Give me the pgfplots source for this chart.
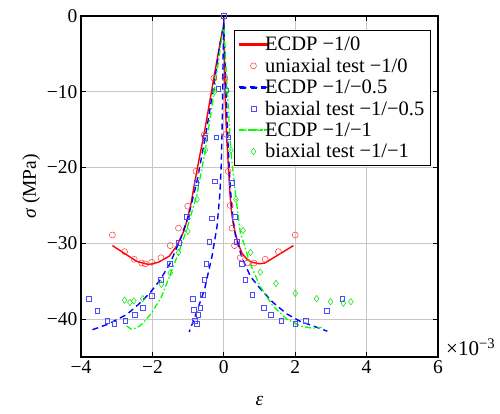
\documentclass[border=0pt]{standalone}
\usepackage{fontspec}
\setmainfont{Liberation Serif}
\usepackage{pgfplots}
\pgfplotsset{compat=1.18}
\pgfplotsset{
  redleg/.style={legend image code/.code={\fill[red] (0pt,-0.7pt) rectangle (28pt,0.7pt);}},
  blueleg/.style={legend image code/.code={\fill[blue] (0pt,-0.7pt) rectangle (7pt,0.7pt) (11pt,-0.7pt) rectangle (18pt,0.7pt) (22pt,-0.7pt) rectangle (28pt,0.7pt);}},
  greenleg/.style={legend image code/.code={\fill[green] (0pt,-0.65pt) rectangle (7pt,0.65pt) (9pt,-0.65pt) rectangle (10.5pt,0.65pt) (12.5pt,-0.65pt) rectangle (19.5pt,0.65pt) (21.5pt,-0.65pt) rectangle (23pt,0.65pt) (25pt,-0.65pt) rectangle (28pt,0.65pt);}},
  markleg/.style={legend image code/.code={\draw[##1] plot coordinates {(14pt,0pt)};}},
}
\begin{document}
\begin{tikzpicture}[x=1pt,y=1pt]
\useasboundingbox (0,0) rectangle (500,414);
\begin{axis}[
  name=ax,
  at={(81pt,57pt)}, anchor=south west,
  scale only axis, width=357pt, height=341pt,
  xmin=-4, xmax=6, ymin=-45, ymax=0,
  xtick={-4,-2,0,2,4,6}, xticklabels={−4,−2,0,2,4,6},
  ytick={-40,-30,-20,-10,0}, yticklabels={−40,−30,−20,−10,0},
  xtick pos=both, ytick pos=both, tick align=inside,
  major tick length=5pt,
  grid=major, major grid style={black!22, line width=0.9pt},
  axis line style={line width=1.2pt},
  tick style={black, line width=1pt},
  ticklabel style={font=\fontsize{19.5}{22}\selectfont},
  label style={font=\fontsize{19.5}{22}\selectfont},
  xlabel={\textit{ε}}, ylabel={\textit{σ} (MPa)},
  xlabel style={yshift=-16pt},
  legend style={at={(rel axis cs:0.98,0.958)}, anchor=north east,
    font=\fontsize{20.5}{21}\selectfont, draw=black, line width=1pt,
    inner sep=4pt, row sep=2pt, column sep=-5pt},
  legend cell align=left,
]
\coordinate (br) at (rel axis cs:1,0);
% ECDP -1/0
\addplot[redleg, color=red, solid, line width=1.4pt, no marks] coordinates {
(-3.12,-30.3) (-2.76,-31.4) (-2.43,-32.4) (-2.10,-32.8) (-1.83,-32.5) (-1.53,-31.7)
(-1.31,-30.3) (-1.12,-28.4) (-1.02,-26.8) (-0.92,-24.8) (-0.80,-21.6) (-0.68,-18.6)
(-0.55,-15.5) (-0.42,-12.0) (-0.28,-8.2) (-0.14,-4.5) (0,-1.0)
(0.02,-6) (0.04,-11) (0.08,-16) (0.13,-20) (0.17,-23.3) (0.21,-25.6) (0.26,-27.3)
(0.32,-28.6) (0.40,-30.0) (0.51,-31.3) (0.65,-32.1) (0.79,-32.5) (1.00,-32.7)
(1.15,-32.6) (1.50,-31.6) (1.95,-30.3)
};
\addlegendentry{ECDP −1/0}
% uniaxial test
\addplot[markleg, color=red!80, only marks, mark=o, mark size=3pt, line width=0.5pt] coordinates {
(-3.12,-28.9) (-2.78,-31.1) (-2.51,-32.1) (-2.30,-32.6) (-2.20,-32.7) (-2.02,-32.5)
(-1.76,-31.9) (-1.50,-30.3) (-1.27,-28.0) (-1.01,-25.1) (-0.78,-20.5) (-0.55,-15.7)
(-0.28,-8.2) (0,0) (0.03,-8.2) (0.07,-15.6) (0.12,-20.5) (0.18,-25.0) (0.23,-28.0)
(0.30,-30.3) (0.46,-31.9) (0.66,-32.6) (0.85,-32.6) (1.16,-32.1) (1.53,-31.1) (2.00,-28.9)
};
\addlegendentry{uniaxial test −1/0}
% ECDP -1/-0.5
\addplot[blueleg, color=blue, line width=1.4pt, dash pattern=on 6pt off 4pt, no marks] coordinates {
(-3.68,-41.4) (-3.26,-40.7) (-2.72,-39.4) (-2.40,-38.1) (-2.06,-36.5) (-1.78,-34.8)
(-1.50,-32.6) (-1.22,-29.5) (-0.99,-26.4) (-0.75,-21.8) (-0.50,-15.5) (-0.25,-8.3)
(-0.10,-3.5) (0,-1.0)
(0.03,-5) (0.07,-11) (0.12,-17) (0.18,-22.5) (0.25,-26.5) (0.32,-28.8) (0.50,-31.8)
(0.75,-34.4) (1.06,-36.2) (1.38,-37.8) (1.76,-39.3) (2.14,-40.3) (2.50,-40.9) (2.90,-41.6)
};
\addlegendentry{ECDP −1/−0.5}
% biaxial -1/-0.5
\addplot[markleg, color=blue!70, only marks, mark=square, mark size=2.3pt, line width=0.5pt] coordinates {
(-3.79,-37.3) (-3.54,-38.9) (-3.26,-40.2) (-3.07,-40.6) (-2.76,-40.2) (-2.50,-39.4)
(-2.27,-38.5) (-2.02,-36.9) (-1.76,-34.8) (-1.52,-32.7) (-1.27,-29.9) (-1.03,-26.5)
(-0.77,-22.0) (-0.54,-16.1) (-0.15,-9.6) (0,0)
(-0.21,-16.0) (-0.26,-21.8) (-0.33,-26.7) (-0.41,-29.8) (-0.49,-32.7) (-0.55,-34.8)
(-0.59,-36.8) (-0.66,-38.5) (-0.72,-39.4) (-0.76,-40.6) (-0.82,-40.2) (-0.85,-38.8) (-0.87,-37.3)
(0.07,-9.8) (0.13,-16.0) (0.23,-22.0) (0.30,-26.5) (0.36,-29.8) (0.50,-32.7) (0.60,-34.8)
(0.80,-36.8) (1.12,-38.5) (1.31,-39.4) (1.61,-40.2) (2.00,-40.6) (2.30,-40.2) (2.88,-38.9) (3.32,-37.3)
};
\addlegendentry{biaxial test −1/−0.5}
% ECDP -1/-1
\addplot[greenleg, color=green, line width=1.3pt, dash pattern=on 6pt off 2.5pt on 1.5pt off 2.5pt, no marks] coordinates {
(-2.72,-40.9) (-2.60,-41.3) (-2.45,-41.2) (-2.30,-40.7) (-2.02,-39.2) (-1.74,-37.0)
(-1.50,-34.1) (-1.27,-31.3) (-1.04,-28.2) (-0.75,-23.5) (-0.52,-17.8) (-0.27,-10.0)
(-0.12,-5.0) (0,-1.0)
(0.04,-5) (0.10,-10) (0.20,-18) (0.34,-24) (0.46,-28.5) (0.73,-32.6) (1.02,-35.7)
(1.38,-38.3) (1.76,-40.0) (2.14,-40.9) (2.47,-41.2) (2.74,-41.1)
};
\addlegendentry{ECDP −1/−1}
% biaxial -1/-1
\addplot[markleg, color=green!90!black, only marks, mark=diamond, mark size=3.2pt, line width=0.5pt] coordinates {
(-2.78,-37.5) (-2.63,-37.8) (-2.52,-37.6) (-2.27,-37.3) (-1.75,-35.4) (-1.50,-33.9)
(-1.27,-31.2) (-1.01,-28.4) (-0.75,-24.2) (-0.51,-17.7) (-0.26,-10.0)
(0.09,-9.9) (0.20,-17.7) (0.34,-24.2) (0.54,-28.3) (0.75,-31.2) (1.02,-33.8) (1.46,-35.3)
(2.00,-36.6) (2.60,-37.3) (2.99,-37.7) (3.35,-37.9) (3.56,-37.7)
};
\addlegendentry{biaxial test −1/−1}
% inner branch of ECDP -1/-0.5
\addplot[color=blue, line width=1.4pt, dash pattern=on 6pt off 4pt, no marks, forget plot] coordinates {
(0,-1.0) (-0.02,-5) (-0.03,-10) (-0.05,-15.5) (-0.07,-19.5) (-0.11,-23.5) (-0.19,-27.8)
(-0.33,-31.7) (-0.54,-36.1) (-0.80,-39.6) (-0.97,-41.7)
};
\end{axis}
\node[anchor=base west, inner sep=0pt, font=\fontsize{21}{24}\selectfont] at ([xshift=8pt,yshift=1pt]br) {×10\textsuperscript{−3}};
\end{tikzpicture}
\end{document}
